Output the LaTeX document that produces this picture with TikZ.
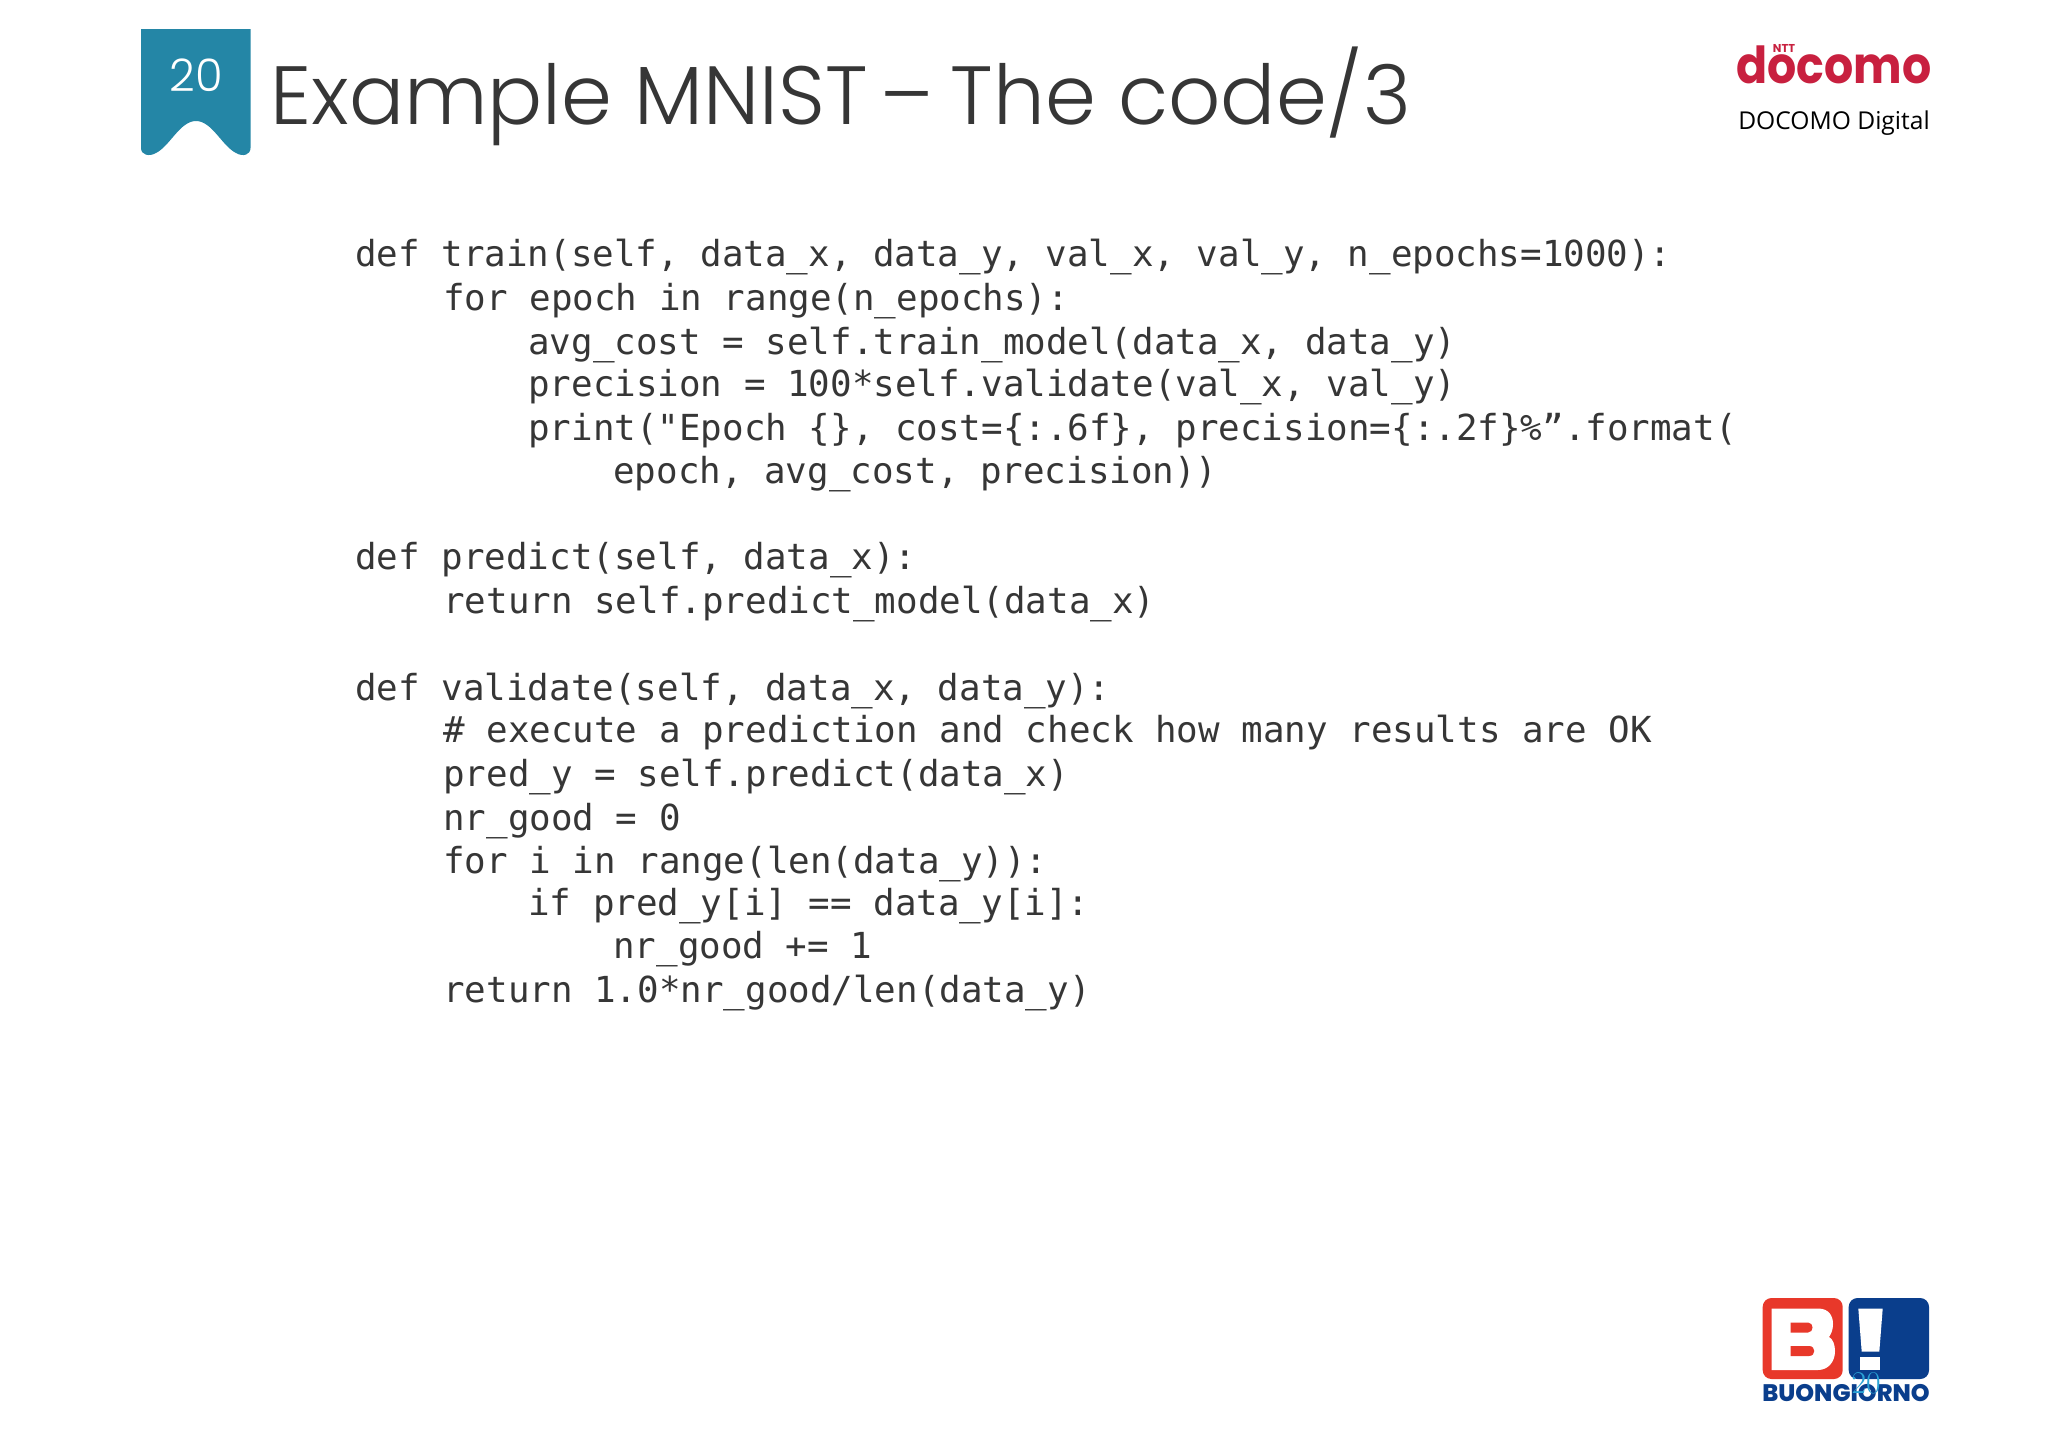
\documentclass[tikz,border=0pt]{standalone}
\usepackage{xcolor}
\usepackage{fontspec}
\usetikzlibrary{calc,positioning}
\newfontfamily\codefont{DejaVu Sans Mono}
\newfontfamily\titlefont{Poppins Light}
\newfontfamily\logofont{Poppins}[UprightFont=* Bold]
\newfontfamily\heavyfont{Poppins}[UprightFont=* ExtraBold]
\newfontfamily\digitalfont{Open Sans}
\definecolor{ribbonblue}{HTML}{2486A6}
\definecolor{titlegray}{HTML}{363636}
\definecolor{codegray}{HTML}{363636}
\definecolor{docomored}{HTML}{C8203F}
\definecolor{bgred}{HTML}{E8382A}
\definecolor{bgblue}{HTML}{0A3E8C}
\definecolor{pagecyan}{HTML}{2AA3D6}
\tikzset{
  codeline/.style={anchor=base west,inner sep=0pt,text=codegray,font=\codefont\fontsize{20.4pt}{24pt}\selectfont},
}
\begin{document}
\begin{tikzpicture}[x=0.02cm,y=-0.02cm,line cap=round,line join=round]
\useasboundingbox (0,0) rectangle (2048,1447);
\fill[white] (0,0) rectangle (2048,1447);
% ribbon
\fill[ribbonblue] (141,29) -- (250.5,29) -- (250.5,148) .. controls (250.5,155) and (243,157) .. (236,153)
  .. controls (222,146) and (212,121) .. (196,121) .. controls (180,121) and (170,146) .. (156,153)
  .. controls (149,157) and (141,155) .. (141,148) -- cycle;
\node[text=white,inner sep=0pt,font=\titlefont\fontsize{25.5pt}{30pt}\selectfont] (pagenr) at (196,75) {20};
\node[anchor=base west,inner sep=0pt,text=titlegray,xscale=0.99,font=\titlefont\fontsize{47pt}{50pt}\selectfont] (title) at (270,124) {Example MNIST\hspace{-0.2cm} –\hspace{-0.1cm} The code/3};
% code
\node[codeline] (c1) at (355,266) {def train(self, data\_x, data\_y, val\_x, val\_y, n\_epochs=1000):};
\node[codeline] (c2) at (443,310) {for epoch in range(n\_epochs):};
\node[codeline] (c3) at (528,354) {avg\_cost = self.train\_model(data\_x, data\_y)};
\node[codeline] (c4) at (528,396) {precision = 100*self.validate(val\_x, val\_y)};
\node[codeline] (c5) at (528,440) {print("Epoch \{\}, cost=\{:.6f\}, precision=\{:.2f\}\%”.format(};
\node[codeline] (c6) at (613,483) {epoch, avg\_cost, precision))};
\node[codeline] (c7) at (355,569) {def predict(self, data\_x):};
\node[codeline] (c8) at (443,613) {return self.predict\_model(data\_x)};
\node[codeline] (c9) at (355,700) {def validate(self, data\_x, data\_y):};
\node[codeline] (c10) at (443,742) {\# execute a prediction and check how many results are OK};
\node[codeline] (c11) at (443,786) {pred\_y = self.predict(data\_x)};
\node[codeline] (c12) at (443,830) {nr\_good = 0};
\node[codeline] (c13) at (443,873) {for i in range(len(data\_y)):};
\node[codeline] (c14) at (528,915) {if pred\_y[i] == data\_y[i]:};
\node[codeline] (c15) at (613,958) {nr\_good += 1};
\node[codeline] (c16) at (443,1002) {return 1.0*nr\_good/len(data\_y)};
% docomo logo
\node[anchor=base,inner sep=0pt,text=docomored,xscale=0.9,font=\logofont\fontsize{29pt}{34pt}\selectfont] (docomo) at (1834,83) {docomo};
\node[anchor=base,inner sep=0pt,text=docomored,font=\logofont\fontsize{6.5pt}{7pt}\selectfont] (ntt) at (1784,52) {NTT};
\node[anchor=base,inner sep=0pt,text=black,font=\digitalfont\fontsize{14pt}{15pt}\selectfont] (digital) at (1834,129) {DOCOMO Digital};
% buongiorno logo
\fill[bgred,rounded corners=5] (1762.7,1298) rectangle (1842.7,1379);
\fill[bgblue,rounded corners=5] (1848.7,1298) rectangle (1929,1379);
\fill[white] (1771.5,1308.5) -- (1818,1308.5) .. controls (1829,1308.5) and (1833,1316) .. (1833,1324)
  .. controls (1833,1330) and (1831,1334) .. (1829,1337) .. controls (1833,1339) and (1835,1345) .. (1835,1351)
  .. controls (1835,1362) and (1828,1370) .. (1818,1370) -- (1771.5,1370) -- cycle;
\fill[bgred] (1790.5,1322.5) -- (1808,1322.5) .. controls (1814,1322.5) and (1814,1332.5) .. (1808,1332.5) -- (1790.5,1332.5) -- cycle;
\fill[bgred] (1790.5,1346) -- (1809,1346) .. controls (1816,1346) and (1816,1356) .. (1809,1356) -- (1790.5,1356) -- cycle;
\fill[white] (1858.3,1308.5) -- (1882.7,1308.5) -- (1879.3,1351.7) -- (1861.7,1351.7) -- cycle;
\fill[white] (1860,1357.3) rectangle (1880,1370);
\node[anchor=base,inner sep=0pt,text=bgblue,font=\heavyfont\fontsize{13.6pt}{15pt}\selectfont] (buongiorno) at (1846,1401.7) {BUONGIORNO};
\node[inner sep=0pt,text=pagecyan,font=\fontsize{18pt}{20pt}\selectfont] (pagefoot) at (1866,1383) {20};
\end{tikzpicture}
\end{document}
